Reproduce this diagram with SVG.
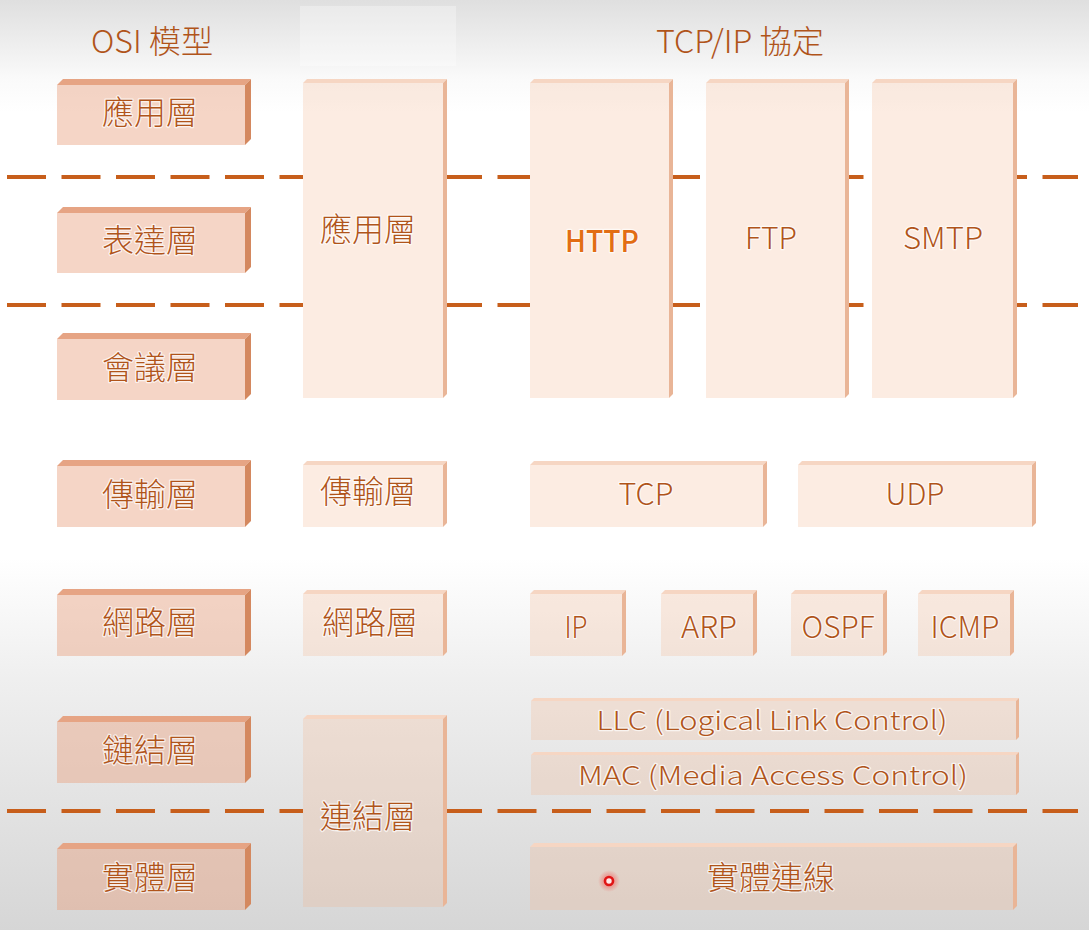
<svg xmlns="http://www.w3.org/2000/svg" width="1089" height="930" viewBox="0 0 1089 930">
<defs>
<linearGradient id="bg" gradientUnits="userSpaceOnUse" x1="0" y1="0" x2="0" y2="930">
<stop offset="0" stop-color="#dfdfdf"/>
<stop offset="0.085" stop-color="#fafafa"/>
<stop offset="0.12" stop-color="#ffffff"/>
<stop offset="0.6" stop-color="#ffffff"/>
<stop offset="0.73" stop-color="#efefef"/>
<stop offset="1" stop-color="#d6d6d6"/>
</linearGradient>
<radialGradient id="glow">
<stop offset="0" stop-color="#ff2020" stop-opacity="0.6"/>
<stop offset="1" stop-color="#ff2020" stop-opacity="0"/>
</radialGradient>
<style>
text{font-family:"Noto Sans CJK TC","Noto Sans",sans-serif;font-weight:300;text-anchor:middle;dominant-baseline:central;fill:#b0541a;paint-order:stroke;stroke:#ffffff;stroke-opacity:0.7;stroke-width:2.5px;stroke-linejoin:round}
.h{font-size:32px;stroke:none}
.c{font-size:32px}
.l{font-size:30px}
.s{font-size:26px}
.http{fill:#e26d14;font-weight:500}
.u{fill:url(#bg)}
.of{fill:#e8a280;fill-opacity:0.45}
.ot{fill:#e6a484}
.or{fill:#d4885f}
.lf{fill:#f2b48c;fill-opacity:0.25}
.lt{fill:#f6d6c3}
.lr{fill:#e9b597}
.dash{stroke:#c75e1b;stroke-width:4;stroke-dasharray:39 15.5;fill:none}
</style>
</defs>
<rect width="1089" height="930" fill="url(#bg)"/>
<rect x="300" y="6" width="156" height="60" fill="#ffffff" fill-opacity="0.3"/>
<text class="h" x="152" y="39" textLength="122" lengthAdjust="spacingAndGlyphs">OSI 模型</text>
<text class="h" x="740" y="39" textLength="168" lengthAdjust="spacingAndGlyphs">TCP/IP 協定</text>
<g id="connectors">
<line class="dash" x1="7" y1="177" x2="1078" y2="177"/>
<line class="dash" x1="7" y1="305" x2="1078" y2="305"/>
<line class="dash" x1="7" y1="811" x2="1078" y2="811"/>
</g>
<g id="osi-app"><rect class="of" x="57" y="85" width="188" height="60"/><path class="ot" d="M57,85 L63,79 L251,79 L245,85Z"/><path class="or" d="M245,85 L251,79 L251,139 L245,145Z"/><text class="c" x="150" y="110">應用層</text></g>
<g id="osi-pres"><rect class="of" x="57" y="213" width="188" height="60"/><path class="ot" d="M57,213 L63,207 L251,207 L245,213Z"/><path class="or" d="M245,213 L251,207 L251,267 L245,273Z"/><text class="c" x="150" y="238">表達層</text></g>
<g id="osi-sess"><rect class="of" x="57" y="339" width="188" height="61"/><path class="ot" d="M57,339 L63,333 L251,333 L245,339Z"/><path class="or" d="M245,339 L251,333 L251,394 L245,400Z"/><text class="c" x="150" y="365">會議層</text></g>
<g id="osi-trans"><rect class="of" x="57" y="466" width="188" height="61"/><path class="ot" d="M57,466 L63,460 L251,460 L245,466Z"/><path class="or" d="M245,466 L251,460 L251,521 L245,527Z"/><text class="c" x="150" y="492">傳輸層</text></g>
<g id="osi-net"><rect class="of" x="57" y="595" width="188" height="61"/><path class="ot" d="M57,595 L63,589 L251,589 L245,595Z"/><path class="or" d="M245,595 L251,589 L251,650 L245,656Z"/><text class="c" x="150" y="620">網路層</text></g>
<g id="osi-link"><rect class="of" x="57" y="722" width="188" height="61"/><path class="ot" d="M57,722 L63,716 L251,716 L245,722Z"/><path class="or" d="M245,722 L251,716 L251,777 L245,783Z"/><text class="c" x="150" y="748">鏈結層</text></g>
<g id="osi-phys"><rect class="of" x="57" y="849" width="188" height="61"/><path class="ot" d="M57,849 L63,843 L251,843 L245,849Z"/><path class="or" d="M245,849 L251,843 L251,904 L245,910Z"/><text class="c" x="150" y="875">實體層</text></g>
<g id="tcpip-app"><path class="u" d="M303,83 L307,79 L447,79 L447,394 L443,398 L303,398Z"/><rect class="lf" x="303" y="83" width="140" height="315"/><path class="lt" d="M303,83 L307,79 L447,79 L443,83Z"/><path class="lr" d="M443,83 L447,79 L447,394 L443,398Z"/><text class="c" x="368" y="227">應用層</text></g>
<g id="tcpip-trans"><rect class="lf" x="303" y="465" width="140" height="62"/><path class="lt" d="M303,465 L307,461 L447,461 L443,465Z"/><path class="lr" d="M443,465 L447,461 L447,523 L443,527Z"/><text class="c" x="368" y="489">傳輸層</text></g>
<g id="tcpip-net"><rect class="lf" x="303" y="594" width="140" height="62"/><path class="lt" d="M303,594 L307,590 L447,590 L443,594Z"/><path class="lr" d="M443,594 L447,590 L447,652 L443,656Z"/><text class="c" x="370" y="620">網路層</text></g>
<g id="tcpip-link"><path class="u" d="M303,719 L307,715 L447,715 L447,903 L443,907 L303,907Z"/><rect class="lf" x="303" y="719" width="140" height="188"/><path class="lt" d="M303,719 L307,715 L447,715 L443,719Z"/><path class="lr" d="M443,719 L447,715 L447,903 L443,907Z"/><text class="c" x="368" y="814">連結層</text></g>
<g id="http"><path class="u" d="M530,83 L534,79 L673,79 L673,394 L669,398 L530,398Z"/><rect class="lf" x="530" y="83" width="139" height="315"/><path class="lt" d="M530,83 L534,79 L673,79 L669,83Z"/><path class="lr" d="M669,83 L673,79 L673,394 L669,398Z"/><text class="l http" x="602" y="239" textLength="74" lengthAdjust="spacingAndGlyphs">HTTP</text></g>
<g id="ftp"><path class="u" d="M706,83 L710,79 L849,79 L849,394 L845,398 L706,398Z"/><rect class="lf" x="706" y="83" width="139" height="315"/><path class="lt" d="M706,83 L710,79 L849,79 L845,83Z"/><path class="lr" d="M845,83 L849,79 L849,394 L845,398Z"/><text class="l" x="771" y="236" textLength="52" lengthAdjust="spacingAndGlyphs">FTP</text></g>
<g id="smtp"><path class="u" d="M872,83 L876,79 L1017,79 L1017,394 L1013,398 L872,398Z"/><rect class="lf" x="872" y="83" width="141" height="315"/><path class="lt" d="M872,83 L876,79 L1017,79 L1013,83Z"/><path class="lr" d="M1013,83 L1017,79 L1017,394 L1013,398Z"/><text class="l" x="943" y="236" textLength="80" lengthAdjust="spacingAndGlyphs">SMTP</text></g>
<g id="tcp"><rect class="lf" x="530" y="465" width="233" height="62"/><path class="lt" d="M530,465 L534,461 L767,461 L763,465Z"/><path class="lr" d="M763,465 L767,461 L767,523 L763,527Z"/><text class="l" x="646" y="492" textLength="55" lengthAdjust="spacingAndGlyphs">TCP</text></g>
<g id="udp"><rect class="lf" x="798" y="465" width="234" height="62"/><path class="lt" d="M798,465 L802,461 L1036,461 L1032,465Z"/><path class="lr" d="M1032,465 L1036,461 L1036,523 L1032,527Z"/><text class="l" x="915" y="492" textLength="59" lengthAdjust="spacingAndGlyphs">UDP</text></g>
<g id="ip"><rect class="lf" x="530" y="594" width="92" height="62"/><path class="lt" d="M530,594 L534,590 L626,590 L622,594Z"/><path class="lr" d="M622,594 L626,590 L626,652 L622,656Z"/><text class="l" x="576" y="625" textLength="23" lengthAdjust="spacingAndGlyphs">IP</text></g>
<g id="arp"><rect class="lf" x="661" y="594" width="92" height="62"/><path class="lt" d="M661,594 L665,590 L757,590 L753,594Z"/><path class="lr" d="M753,594 L757,590 L757,652 L753,656Z"/><text class="l" x="709" y="625" textLength="56" lengthAdjust="spacingAndGlyphs">ARP</text></g>
<g id="ospf"><rect class="lf" x="791" y="594" width="92" height="62"/><path class="lt" d="M791,594 L795,590 L887,590 L883,594Z"/><path class="lr" d="M883,594 L887,590 L887,652 L883,656Z"/><text class="l" x="838" y="625" textLength="73" lengthAdjust="spacingAndGlyphs">OSPF</text></g>
<g id="icmp"><rect class="lf" x="918" y="594" width="92" height="62"/><path class="lt" d="M918,594 L922,590 L1014,590 L1010,594Z"/><path class="lr" d="M1010,594 L1014,590 L1014,652 L1010,656Z"/><text class="l" x="965" y="625" textLength="69" lengthAdjust="spacingAndGlyphs">ICMP</text></g>
<g id="llc"><rect class="lf" x="531" y="701" width="485" height="39"/><path class="lt" d="M531,701 L534,698 L1019,698 L1016,701Z"/><path class="lr" d="M1016,701 L1019,698 L1019,737 L1016,740Z"/><text class="s" x="772" y="718" textLength="351" lengthAdjust="spacingAndGlyphs">LLC (Logical Link Control)</text></g>
<g id="mac"><rect class="lf" x="531" y="755" width="485" height="40"/><path class="lt" d="M531,755 L534,752 L1019,752 L1016,755Z"/><path class="lr" d="M1016,755 L1019,752 L1019,792 L1016,795Z"/><text class="s" x="773" y="773" textLength="390" lengthAdjust="spacingAndGlyphs">MAC (Media Access Control)</text></g>
<g id="phys-link"><rect class="lf" x="530" y="847" width="483" height="63"/><path class="lt" d="M530,847 L534,843 L1017,843 L1013,847Z"/><path class="lr" d="M1013,847 L1017,843 L1017,906 L1013,910Z"/><text class="c" x="771" y="875">實體連線</text></g>
<g id="pointer"><circle cx="609" cy="881" r="11" fill="url(#glow)"/><circle cx="609" cy="881" r="4" fill="#ffe8e8" stroke="#e01515" stroke-width="2.6"/></g>
</svg>
